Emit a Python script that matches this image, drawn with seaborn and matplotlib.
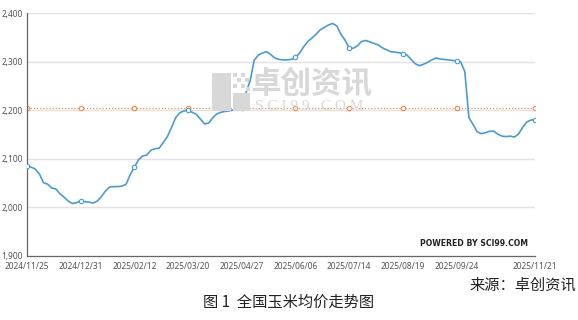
import numpy as np
import pandas as pd
import matplotlib
matplotlib.use("Agg")
import matplotlib.pyplot as plt
from matplotlib.patches import Rectangle
import seaborn as sns

# ---- data ----
tick_labels = ["2024/11/25", "2024/12/31", "2025/02/12", "2025/03/20", "2025/04/27",
               "2025/06/06", "2025/07/14", "2025/08/19", "2025/09/24", "2025/11/21"]
prices = [2086, 2083, 2079, 2069, 2051, 2048, 2040, 2038, 2028, 2021,
          2013, 2008, 2010, 2013, 2012, 2011, 2009, 2013, 2022, 2034,
          2042, 2043, 2043, 2044, 2048, 2068, 2083, 2098, 2106, 2108,
          2118, 2121, 2122, 2134, 2146, 2165, 2185, 2195, 2199, 2200,
          2196, 2192, 2182, 2172, 2174, 2185, 2193, 2196, 2198, 2199,
          2201, 2203, 2215, 2236, 2260, 2303, 2314, 2318, 2321, 2315,
          2308, 2305, 2304, 2304, 2305, 2309, 2318, 2331, 2342, 2349,
          2357, 2366, 2371, 2376, 2379, 2374, 2357, 2345, 2328, 2328,
          2333, 2342, 2344, 2341, 2338, 2335, 2329, 2325, 2321, 2320,
          2319, 2317, 2314, 2305, 2296, 2292, 2295, 2299, 2304, 2308,
          2306, 2305, 2304, 2303, 2302, 2300, 2280, 2185, 2171, 2156,
          2152, 2154, 2157, 2157, 2151, 2147, 2146, 2147, 2145, 2151,
          2165, 2176, 2180, 2181]
average_price = 2205
y_ticks = [1900, 2000, 2100, 2200, 2300, 2400]

n = len(prices)
step = 13
tick_pos = list(range(0, n - 10, step)) + [n - 1]
df = pd.DataFrame({"x": np.arange(n), "price": prices, "avg": [average_price] * n})

# ---- figure ----
sns.set_theme(style="white")
plt.rcParams["font.family"] = ["Noto Sans", "DejaVu Sans"]
W, H = 578, 320
fig = plt.figure(figsize=(W / 100, H / 100), dpi=100)
fig.patch.set_facecolor("white")
ax = fig.add_axes([27 / W, 1 - 256 / H, (535 - 27) / W, (256 - 13.3) / H])

# ---- watermark (behind the plot) ----
def px(x, y):
    return x / W, 1 - y / H

wm = "#d8d8d8"
def block(x0, y0, x1, y1):
    fx, fy = px(x0, y1)
    fig.add_artist(Rectangle((fx, fy), (x1 - x0) / W, (y1 - y0) / H,
                             transform=fig.transFigure, color=wm, zorder=0.5,
                             lw=0))
block(212, 73, 231, 111)
block(233, 93, 250, 111)
for (sx, sy) in [(233, 73), (241, 73), (237, 78), (245, 78), (233, 84), (241, 84),
                 (246, 87)]:
    block(sx, sy, sx + 4, sy + 4)

fig.text(*px(251, 84), "卓创资讯", fontsize=22, color=wm, va="center", ha="left",
         family=["Noto Sans CJK SC"], fontweight="bold", zorder=0.5)
fig.text(*px(255, 107), "S C I 9 9 . C O M", fontsize=11, color=wm, va="center",
         ha="left", family=["Liberation Serif"], zorder=0.5)

ax.patch.set_alpha(0)

for v in y_ticks[1:]:
    ax.axhline(v, color="#e3e3e3", lw=1.0, zorder=0)

mk = tick_pos
sns.lineplot(data=df, x="x", y="avg", ax=ax, color="#ee8a4c", lw=0.9,
             linestyle=(0, (1, 1.5)), marker="o", markersize=3.2,
             markerfacecolor="white", markeredgecolor="#ee8a4c", markeredgewidth=0.8,
             markevery=mk, zorder=2)
sns.lineplot(data=df, x="x", y="price", ax=ax, color="#4a9bd0", lw=1.2,
             marker="o", markersize=3.2, markerfacecolor="white",
             markeredgecolor="#4a9bd0", markeredgewidth=0.8, markevery=mk, zorder=3)

ax.set_xlim(0, n - 1)
ax.set_ylim(1900, 2400)
ax.set_yticks(y_ticks)
ax.set_yticklabels([f"{v:,}" for v in y_ticks])
ax.set_xticks(tick_pos)
ax.set_xticklabels(tick_labels)
ax.set_xlabel("")
ax.set_ylabel("")
ax.tick_params(axis="both", labelsize=6.0, colors="#555555", length=2.5, width=0.8,
               pad=1.5, direction="out")
ax.tick_params(axis="y", pad=0.3)
for s in ["top", "right"]:
    ax.spines[s].set_visible(False)
for s in ["left", "bottom"]:
    ax.spines[s].set_color("#666666")
    ax.spines[s].set_linewidth(0.9)

fig.text(*px(528, 243), "POWERED BY SCI99.COM", fontsize=5.6, color="#222222",
         fontweight="bold", ha="right", va="center", family=["DejaVu Sans"])

fig.text(*px(576, 285), "来源：卓创资讯", fontsize=11, color="#222222", ha="right",
         va="center", family=["Noto Sans CJK SC", "DejaVu Sans"])
fig.text(*px(289, 302), "图 1  全国玉米均价走势图", fontsize=11, color="#222222",
         ha="center", va="center", family=["Noto Sans CJK SC", "DejaVu Sans"])

fig.savefig("out.png", dpi=100, facecolor="white")
